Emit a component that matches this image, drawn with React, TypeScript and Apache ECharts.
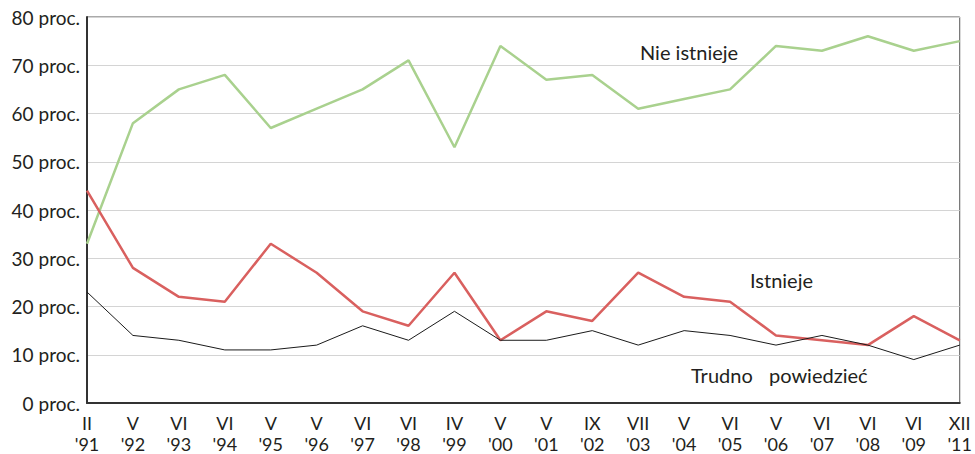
import React, { useEffect, useRef } from "react";
import * as echarts from "echarts";

const categories = ["II\n'91", "V\n'92", "VI\n'93", "VI\n'94", "V\n'95", "V\n'96", "VI\n'97", "VI\n'98", "IV\n'99", "V\n'00", "V\n'01", "IX\n'02", "VII\n'03", "V\n'04", "VI\n'05", "V\n'06", "VI\n'07", "VI\n'08", "VI\n'09", "XII\n'11"];
const nieIstnieje = [33, 58, 65, 68, 57, 61, 65, 71, 53, 74, 67, 68, 61, 63, 65, 74, 73, 76, 73, 75];
const istnieje = [44, 28, 22, 21, 33, 27, 19, 16, 27, 13, 19, 17, 27, 22, 21, 14, 13, 12, 18, 13];
const trudno = [23, 14, 13, 11, 11, 12, 16, 13, 19, 13, 13, 15, 12, 15, 14, 12, 14, 12, 9, 12];

const FONT = "Lato, 'Noto Sans', sans-serif";
const TEXT = "#231f20";

export default function App() {
  const ref = useRef<HTMLDivElement>(null);
  useEffect(() => {
    document.body.style.margin = "0";
    const chart = echarts.init(ref.current!, null, { renderer: "svg", width: 975, height: 454 });
    const label = (text: string, x: number, y: number) => ({
      type: "text",
      x,
      y,
      style: { text, fill: TEXT, font: `20px ${FONT}`, verticalAlign: "middle" },
    });
    chart.setOption({
      animation: false,
      grid: { left: 87, right: 8, top: 17, bottom: 47, show: true, borderColor: "#555", borderWidth: 1 },
      xAxis: {
        type: "category",
        data: categories,
        boundaryGap: false,
        axisLine: { lineStyle: { color: "#333", width: 2 } },
        axisTick: { show: false },
        axisLabel: { color: TEXT, fontFamily: FONT, fontSize: 18, lineHeight: 21, margin: 9, interval: 0 },
        splitLine: { show: false },
      },
      yAxis: {
        type: "value",
        min: 0,
        max: 80,
        interval: 10,
        axisLine: { show: true, lineStyle: { color: "#333", width: 2 } },
        axisTick: { show: false },
        axisLabel: { color: TEXT, fontFamily: FONT, fontSize: 19, margin: 7, padding: [3, 0, 0, 0], formatter: (v: number) => `${v} proc.` },
        splitLine: { lineStyle: { color: "#d4d4d4", width: 1 } },
      },
      series: [
        { type: "line", data: nieIstnieje, symbol: "none", lineStyle: { color: "#a9d18e", width: 2.5 } },
        { type: "line", data: istnieje, symbol: "none", lineStyle: { color: "#d9605f", width: 2.5 } },
        { type: "line", data: trudno, symbol: "none", lineStyle: { color: "#1a1a1a", width: 1 } },
      ],
      graphic: [
        label("Nie istnieje", 640, 52),
        label("Istnieje", 750, 280),
        label("Trudno", 691, 375),
        label("powiedzieć", 769, 375),
      ],
    });
    return () => chart.dispose();
  }, []);
  return <div ref={ref} style={{ width: 975, height: 454 }} />;
}
